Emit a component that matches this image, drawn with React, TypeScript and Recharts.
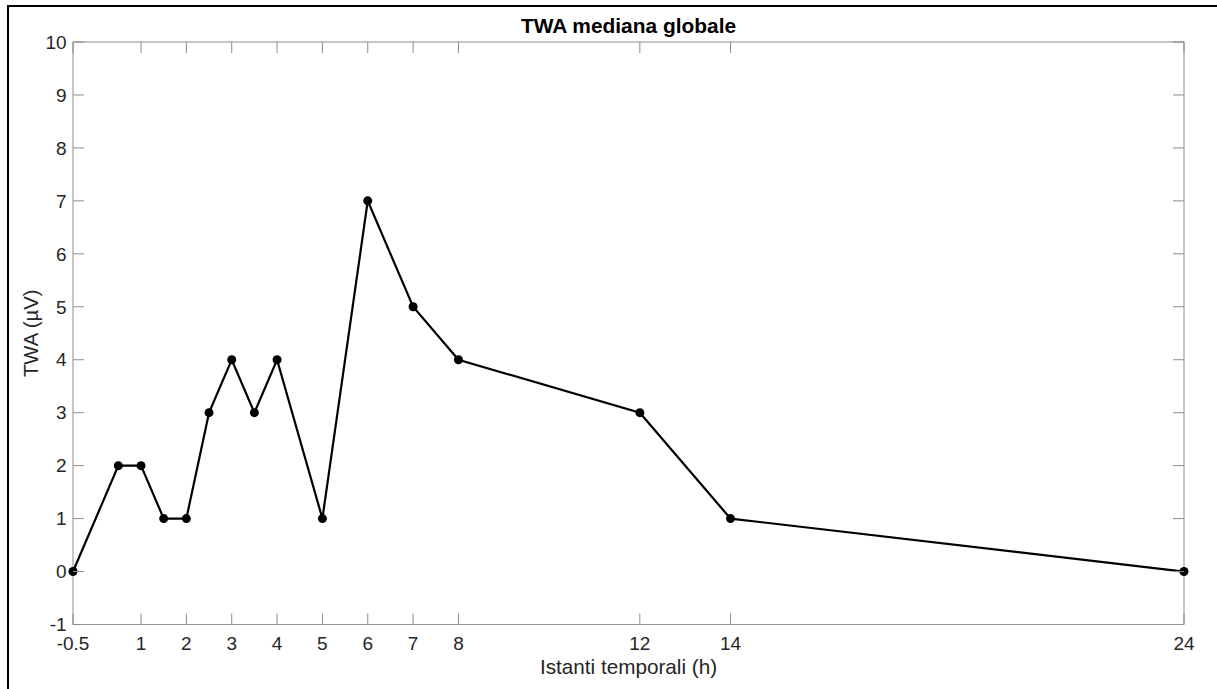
import React from 'react';
import { LineChart, Line, XAxis, YAxis, Label, ReferenceLine } from 'recharts';

const timeHours = [-0.5, 0.5, 1, 1.5, 2, 2.5, 3, 3.5, 4, 5, 6, 7, 8, 12, 14, 24];
const twaMedian = [0, 2, 2, 1, 1, 3, 4, 3, 4, 1, 7, 5, 4, 3, 1, 0];
const xTicks = [-0.5, 1, 2, 3, 4, 5, 6, 7, 8, 12, 14, 24];
const yTicks = [-1, 0, 1, 2, 3, 4, 5, 6, 7, 8, 9, 10];

const data = timeHours.map((t, i) => ({ t, v: twaMedian[i] }));

const FONT = '"Liberation Sans", Arial, Helvetica, sans-serif';
const AXIS = '#8c8c8c';
const TEXT = '#262626';

const PLOT_LEFT = 73;
const PLOT_TOP = 42;
const PLOT_RIGHT = 1184;
const PLOT_BOTTOM = 624.5;
const TICK_LEN = 11;

const XTick = (props: any) => {
  const { x, y, payload } = props;
  return (
    <g>
      <line x1={x} y1={PLOT_BOTTOM} x2={x} y2={PLOT_BOTTOM - TICK_LEN} stroke={AXIS} strokeWidth={1} />
      <line x1={x} y1={PLOT_TOP} x2={x} y2={PLOT_TOP + TICK_LEN} stroke={AXIS} strokeWidth={1} />
      <text x={x} y={y + 25.5} textAnchor="middle" fontSize={19} fill={TEXT} fontFamily={FONT}>
        {String(payload.value)}
      </text>
    </g>
  );
};

const YTick = (props: any) => {
  const { y, payload } = props;
  return (
    <g>
      <line x1={PLOT_LEFT} y1={y} x2={PLOT_LEFT + TICK_LEN} y2={y} stroke={AXIS} strokeWidth={1} />
      <line x1={PLOT_RIGHT} y1={y} x2={PLOT_RIGHT - TICK_LEN} y2={y} stroke={AXIS} strokeWidth={1} />
      <text x={PLOT_LEFT - 6.3} y={y} dy="0.355em" textAnchor="end" fontSize={19} fill={TEXT} fontFamily={FONT}>
        {String(payload.value)}
      </text>
    </g>
  );
};

export default function App() {
  return (
    <div style={{ position: 'absolute', left: 0, top: 0, width: 1217, height: 689, background: '#fff' }}>
      <LineChart
        width={1217}
        height={689}
        data={data}
        margin={{ top: PLOT_TOP, right: 1217 - PLOT_RIGHT, left: 0, bottom: 689 - PLOT_BOTTOM - 40 }}
        style={{ fontFamily: FONT }}
      >
        <XAxis
          dataKey="t"
          type="number"
          domain={[-0.5, 24]}
          ticks={xTicks}
          interval={0}
          height={40}
          tickSize={0}
          tickMargin={0}
          tickLine={false}
          stroke={AXIS}
          tick={<XTick />}
        >
          <Label
            content={(props: any) => {
              const vb = props.viewBox || {};
              const cx = vb.x + vb.width / 2;
              return (
                <g>
                  <text
                    x={cx}
                    y={vb.y + 49.5}
                    textAnchor="middle"
                    fontSize={20.7}
                    fill={TEXT}
                    fontFamily={FONT}
                  >
                    Istanti temporali (h)
                  </text>
                  <text
                    x={cx}
                    y={33}
                    textAnchor="middle"
                    fontSize={20.9}
                    fontWeight="bold"
                    fill="#000"
                    fontFamily={FONT}
                  >
                    TWA mediana globale
                  </text>
                </g>
              );
            }}
          />
        </XAxis>
        <YAxis
          type="number"
          domain={[-1, 10]}
          ticks={yTicks}
          interval={0}
          width={PLOT_LEFT}
          tickSize={0}
          tickMargin={0}
          tickLine={false}
          stroke={AXIS}
          tick={<YTick />}
        >
          <Label
            content={(props: any) => {
              const vb = props.viewBox || {};
              const cy = vb.y + vb.height / 2;
              return (
                <text
                  x={38}
                  y={cy}
                  textAnchor="middle"
                  fontSize={20.3}
                  fill={TEXT}
                  fontFamily={FONT}
                  transform={`rotate(-90, 38, ${cy})`}
                >
                  TWA (µV)
                </text>
              );
            }}
          />
        </YAxis>
        <ReferenceLine y={10} stroke={AXIS} strokeWidth={1} />
        <ReferenceLine x={24} stroke={AXIS} strokeWidth={1} />
        <Line
          type="linear"
          dataKey="v"
          stroke="#000"
          strokeWidth={2.2}
          dot={{ r: 4.5, fill: '#000', stroke: '#000', strokeWidth: 0, clipDot: false } as any}
          isAnimationActive={false}
        />
      </LineChart>
      <div
        style={{
          position: 'absolute',
          left: 7,
          top: 5,
          width: 1217,
          height: 689,
          borderLeft: '2px solid #000',
          borderTop: '2px solid #000',
          pointerEvents: 'none',
        }}
      />
    </div>
  );
}
